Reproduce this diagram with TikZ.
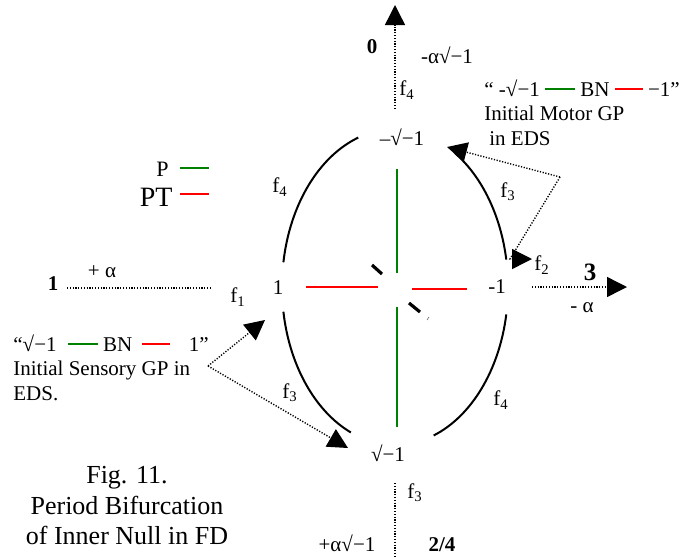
\documentclass[tikz,border=0pt]{standalone}
\usepackage{fontspec}
\setmainfont{Liberation Serif}
\usetikzlibrary{arrows.meta,calc}
\definecolor{pgreen}{RGB}{0,128,0}
\definecolor{ptred}{RGB}{255,0,0}
\newcommand{\gbar}{\textcolor{pgreen}{\rule[0.3em]{15pt}{1pt}}}
\newcommand{\rbar}{\textcolor{ptred}{\rule[0.3em]{14pt}{1pt}}}
\tikzset{
  lbl/.style={inner sep=1pt, font=\fontsize{10.5}{12}\selectfont},
  num/.style={inner sep=1pt, font=\bfseries\fontsize{10.5}{12}\selectfont},
  note/.style={align=left, inner sep=0pt, font=\fontsize{10.5}{12.25}\selectfont},
  caption/.style={align=center, inner sep=0pt, font=\fontsize{13}{15.25}\selectfont},
  orbit/.style={line width=1pt},
  dotline/.style={line width=0.7pt, dash pattern=on 0.6pt off 0.8pt},
  dotarrow/.style={dotline, -{Triangle[length=10pt,width=10pt]}},
  pline/.style={draw=pgreen, line width=0.8pt},
  ptline/.style={draw=ptred, line width=1pt},
  tickmark/.style={line width=1.6pt}
}
\begin{document}
\begin{tikzpicture}[x=0.5pt,y=-0.5pt]
\useasboundingbox (0,0) rectangle (685,558);
% poles of the null
\node[lbl] (tp) at (402,137) {–√−1};
\node[lbl] (bp) at (388,453) {√−1};
\node[lbl] (lp) at (278,288) {1};
\node[lbl] (rp) at (497,287) {-1};
% outer numbers
\node[num] (n0) at (372,47) {0};
\node[num] (n1) at (53,284) {1};
\node[num, font=\bfseries\fontsize{12.5}{14}\selectfont] (n3) at (590,272) {3};
\node[num] (n24) at (442,545) {2/4};
\node[lbl] (am) at (447,55) {-α√−1};
\node[lbl] (ap) at (102,272) {+ α};
\node[lbl] (rm) at (582,308) {- α};
\node[lbl] (bpm) at (347,543) {+α√−1};
% f labels
\node[lbl] (fa) at (407,90) {f\textsubscript{4}};
\node[lbl] (fb) at (280,187) {f\textsubscript{4}};
\node[lbl] (fc) at (508,192) {f\textsubscript{3}};
\node[lbl] (fd) at (542,265) {f\textsubscript{2}};
\node[lbl] (fe) at (238,297) {f\textsubscript{1}};
\node[lbl] (ff) at (290,393) {f\textsubscript{3}};
\node[lbl] (fg) at (501,400) {f\textsubscript{4}};
\node[lbl] (fh) at (415,493) {f\textsubscript{3}};
% legend
\node[lbl, font=\fontsize{11}{13}\selectfont, anchor=east] (pkey) at (171,169) {P};
\node[lbl, font=\fontsize{14}{16}\selectfont, anchor=east] (ptkey) at (175,197) {PT};
\draw[pline] (180,168) -- (209,168);
\draw[ptline] (180,194) -- (209,194);
% notes
\node[note, anchor=north west] (motor) at (484,79)
  {“ -√−1 \gbar{} BN \rbar{} −1”\\Initial Motor GP\\\hspace{2.5pt}in EDS};
\node[note, anchor=north west] (sensory) at (13,334)
  {“√−1 \hspace{3pt}\gbar{} BN \hspace{2pt}\rbar{}\hspace{7pt} 1”\\Initial Sensory GP in\\EDS.};
\node[caption] (cap) at (127,506) {Fig. 11.\\Period Bifurcation\\of Inner Null in FD};
% orbit arcs
\coordinate (o) at (395,287);
\draw[orbit] ($(o)+(-109:113 and 158)$) arc[start angle=-109, end angle=-171, x radius=113, y radius=158];
\draw[orbit] ($(o)+(171:113 and 158)$) arc[start angle=171, end angle=113, x radius=113, y radius=158];
\draw[orbit] ($(o)+(70:113 and 158)$) arc[start angle=70, end angle=10, x radius=113, y radius=158];
\draw[orbit] ($(o)+(-58:113 and 158)$) arc[start angle=-58, end angle=-10, x radius=113, y radius=158];
% P and PT bars
\draw[pline] (397,169) -- (397,273);
\draw[pline] (397,307) -- (397,427);
\draw[ptline] (306,287) -- (378,287);
\draw[ptline] (412,289) -- (467,289);
\draw[tickmark] (372,265) -- (382,274);
\draw[tickmark] (409,303) -- (420,312);
\draw[line width=0.3pt, black!60] (427,320) -- (429,317);
% dotted axes
\coordinate (up0) at (395,109);
\coordinate (up1) at (395,5);
\coordinate (dn0) at (395,483);
\coordinate (dn1) at (395,558);
\coordinate (lt0) at (67,288);
\coordinate (lt1) at (210,288);
\coordinate (rt0) at (532,287);
\coordinate (rt1) at (627,287);
\draw[dotarrow] (up0) -- (up1);
\draw[dotline] (dn0) -- (dn1);
\draw[dotline] (lt0) -- (lt1);
\draw[dotarrow] (rt0) -- (rt1);
% pointers from the notes
\coordinate (mv) at (560,177);
\coordinate (mtip) at (447,147);
\coordinate (ftip) at (532,259);
\coordinate (sv) at (208,366);
\coordinate (stip1) at (265,320);
\coordinate (stip2) at (348,448);
\draw[dotarrow] (mv) -- (mtip);
\draw[dotarrow] (mv) -- (510,259) -- (ftip);
\draw[dotarrow] (sv) -- (stip1);
\draw[dotarrow] (sv) -- (stip2);
\end{tikzpicture}
\end{document}
